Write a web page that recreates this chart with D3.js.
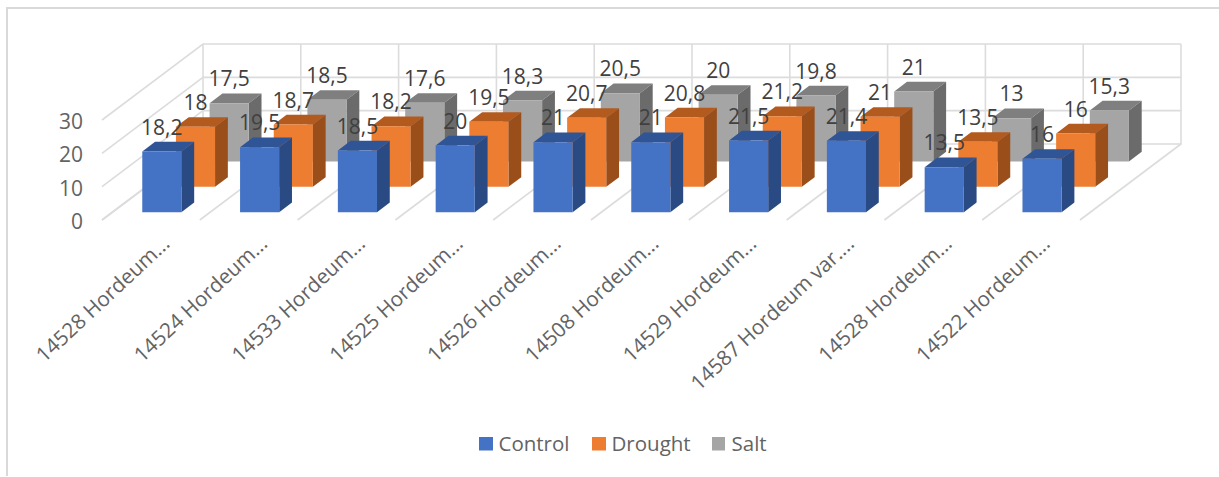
<!DOCTYPE html>
<html><head><meta charset="utf-8">
<script src="https://cdn.jsdelivr.net/npm/d3@7/dist/d3.min.js"></script>
<style>html,body{margin:0;padding:0;background:#fff}svg{display:block}text{font-family:"Open Sans",sans-serif}</style>
</head><body><svg id="chart" width="1219" height="477"></svg>
<script>
const categories = ["14528 Hordeum...","14524 Hordeum...","14533 Hordeum...","14525 Hordeum...","14526 Hordeum...","14508 Hordeum...","14529 Hordeum...","14587 Hordeum var....","14528 Hordeum...","14522 Hordeum..."];
const seriesNames = ["Control","Drought","Salt"];
const control = [18.2,19.5,18.5,20,21,21,21.5,21.4,13.5,16];
const drought = [18,18.7,18.2,19.5,20.7,20.8,21.2,21,13.5,16];
const salt = [17.5,18.5,17.6,18.3,20.5,20,19.8,21,13,15.3];
const valueTicks = [0,10,20,30];
const faces = [["#4472c4","#2f5597","#2a4a84"],["#ed7d31","#b35a1f","#9a4f1b"],["#a5a5a5","#7f7f7f","#6b6b6b"]];

const svg = d3.select("#chart");
const fmt = v => String(v).replace(".", ",");
// Oblique 3D projection: category along x, series along depth, value upward
const xScale = d3.scaleLinear().domain([0,10]).range([102,1080]);
const depthX = d3.scaleLinear().domain([0,3]).range([0,101]);
const depthY = d3.scaleLinear().domain([0,3]).range([0,-76]);
const valueScale = d3.scaleLinear().domain([0,30]).range([0,-100]);
const floorY = 220;
const project = (c,d,v) => [xScale(c)+depthX(d), floorY+depthY(d)+valueScale(v)];
const poly = pts => d3.line()(pts)+"Z";
const grid = "#dcdcdc";

const frame = svg.append("g").attr("fill","none").attr("stroke","#d9d9d9").attr("stroke-width",2);
frame.append("path").attr("d", d3.line()([[7,476],[7,8],[1219,8]]));

const walls = svg.append("g").attr("fill","none").attr("stroke",grid).attr("stroke-width",1.6);
valueTicks.forEach(t=>{
  walls.append("path").attr("d", d3.line()([project(0,0,t),project(0,3,t),project(10,3,t)]));
});
d3.range(0,11).forEach(i=>{
  walls.append("path").attr("d", d3.line()([project(i,0,0),project(i,3,0),project(i,3,30)]));
});

// Bars are painted from the back row forward so nearer bars overlap farther ones
const barStart = 0.305, barEnd = 0.705, rowStart = 0.31, rowEnd = 0.69;
const rows = [control,drought,salt];
const bars = svg.append("g");
[2,1,0].forEach(s=>{
  const col = faces[s];
  rows[s].forEach((v,i)=>{
    const c0=i+barStart,c1=i+barEnd,d0=s+rowStart,d1=s+rowEnd;
    const g=bars.append("g");
    g.append("path").attr("fill",col[1]).attr("d",poly([project(c0,d0,v),project(c1,d0,v),project(c1,d1,v),project(c0,d1,v)]));
    g.append("path").attr("fill",col[2]).attr("d",poly([project(c1,d0,0),project(c1,d1,0),project(c1,d1,v),project(c1,d0,v)]));
    g.append("path").attr("fill",col[0]).attr("d",poly([project(c0,d0,0),project(c1,d0,0),project(c1,d0,v),project(c0,d0,v)]));
  });
});

const labels = svg.append("g").attr("fill","#404040").attr("font-size",21).attr("text-anchor","middle");
rows.forEach((vals,s)=>vals.forEach((v,i)=>{
  const p = project(i+(barStart+barEnd)/2,s+rowStart,v);
  labels.append("text").attr("x",p[0]).attr("y",p[1]-24).attr("dy","0.35em").text(fmt(v));
}));

const axisY = svg.append("g").attr("fill","#636363").attr("font-size",21).attr("text-anchor","end");
valueTicks.forEach(t=>{
  const p=project(0,0,t);
  axisY.append("text").attr("x",p[0]-19).attr("y",p[1]+1.5).attr("dy","0.35em").text(t);
});

const axisX = svg.append("g").attr("fill","#636363").attr("font-size",20.7).attr("text-anchor","end");
categories.forEach((c,i)=>{
  const x=xScale(i)+64, y=floorY+20;
  axisX.append("text").attr("transform",`translate(${x},${y}) rotate(-43)`).attr("dy","0.35em").text(c);
});

const legendX=[479,592,712];
const legend=svg.append("g").attr("font-size",20.5).attr("fill","#636363");
seriesNames.forEach((n,i)=>{
  legend.append("rect").attr("x",legendX[i]).attr("y",437).attr("width",i==2?13:14).attr("height",13.5).attr("fill",faces[i][0]);
  legend.append("text").attr("x",legendX[i]+19.5).attr("y",444).attr("dy","0.35em").text(n);
});
</script></body></html>
